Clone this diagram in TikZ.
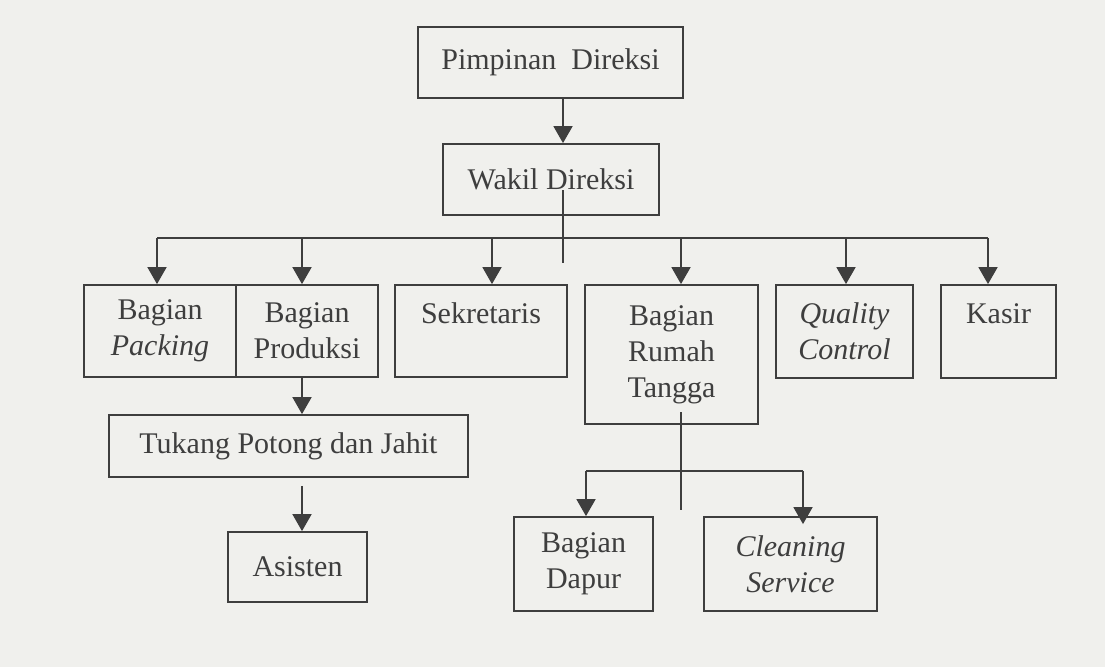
\documentclass[tikz,border=0pt]{standalone}
\usepackage{fontspec}
\setmainfont{Liberation Serif}
\usetikzlibrary{arrows.meta}
\definecolor{paper}{RGB}{240,240,237}
\definecolor{ink}{RGB}{62,62,62}
\begin{document}
\begin{tikzpicture}[
    x=1pt, y=-1pt,
    every node/.style={font=\fontsize{30}{36}\selectfont, text=ink, align=center},
    box/.style={draw=ink, line width=1.8pt, rectangle, inner sep=0pt},
    arr/.style={draw=ink, line width=1.8pt, -{Triangle[width=19pt,length=17pt]}},
    ln/.style={draw=ink, line width=1.8pt}
]
\fill[paper] (0,0) rectangle (1105,667);
\useasboundingbox (0,0) rectangle (1105,667);
\node[box, minimum width=265pt, minimum height=71pt] (pimpinan) at (550.5,62.5) {Pimpinan\ \ Direksi};
\node[box, minimum width=216pt, minimum height=71pt] (wakil) at (551,179.5) {Wakil Direksi};
\node[box, minimum width=152pt, minimum height=92pt] (packing) at (160,331) {Bagian\\\textit{Packing}};
\node[box, minimum width=142pt, minimum height=92pt] (produksi) at (307,331) {Bagian\\Produksi};
\node[box, minimum width=172pt, minimum height=92pt] (sekretaris) at (481,331) {Sekretaris\\\mbox{}};
\node[box, minimum width=173pt, minimum height=139pt] (rumah) at (671.5,354.5) {Bagian\\Rumah\\Tangga};
\node[box, minimum width=137pt, minimum height=93pt] (qc) at (844.5,331.5) {\textit{Quality}\\\textit{Control}};
\node[box, minimum width=115pt, minimum height=93pt] (kasir) at (998.5,331.5) {Kasir\\\mbox{}};
\node[box, minimum width=359pt, minimum height=62pt] (tukang) at (288.5,446) {Tukang Potong dan Jahit};
\node[box, minimum width=139pt, minimum height=70pt] (asisten) at (297.5,567) {Asisten};
\node[box, minimum width=139pt, minimum height=94pt] (dapur) at (583.5,564) {Bagian\\Dapur};
\node[box, minimum width=173pt, minimum height=94pt] (cleaning) at (790.5,564) {\textit{Cleaning}\\\textit{Service}};
\coordinate (bus) at (563,238);
\coordinate (subbus) at (681,471);
\draw[arr] (pimpinan.south -| bus) -- (wakil.north -| bus);
\draw[ln] (563,190) -- (563,263);
\draw[ln] (157,238) -- (988,238);
\foreach \n/\x in {packing/157, produksi/302, sekretaris/492, rumah/681, qc/846, kasir/988}
    \draw[arr] (\x,238) -- (\n.north -| \x,0);
\draw[arr] (produksi.south -| 302,0) -- (tukang.north -| 302,0);
\draw[arr, shorten <=8pt] (tukang.south -| 302,0) -- (asisten.north -| 302,0);
\draw[ln] (681,412) -- (681,510);
\draw[ln] (586,471) -- (803,471);
\draw[arr] (586,471) -- (dapur.north -| 586,0);
\draw[arr, shorten >=-8pt] (803,471) -- (cleaning.north -| 803,0);
\end{tikzpicture}
\end{document}
